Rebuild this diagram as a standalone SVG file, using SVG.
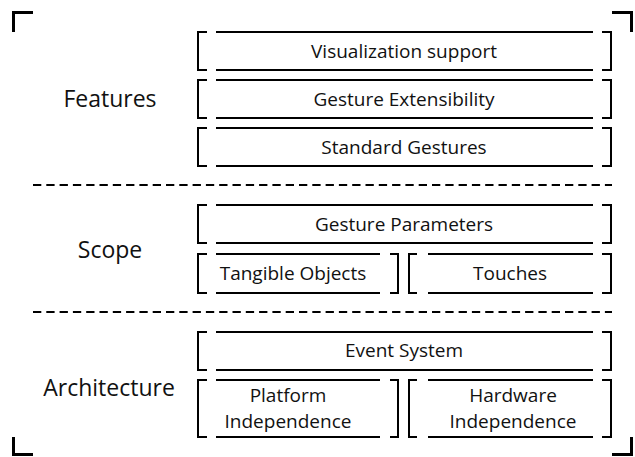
<svg xmlns="http://www.w3.org/2000/svg" width="635" height="457" viewBox="0 0 635 457">
  <style>
    .frame { fill: none; stroke: #000; stroke-width: 3; }
    .edge { fill: none; stroke: #000; stroke-width: 2; }
    .sep { fill: none; stroke: #000; stroke-width: 2; stroke-dasharray: 8.3 5; }
    .label { font-family: "Open Sans", "Noto Sans", "Liberation Sans", sans-serif; font-size: 19px; fill: #111; text-anchor: middle; }
    .title { font-family: "Open Sans", "Noto Sans", "Liberation Sans", sans-serif; font-size: 23px; fill: #111; text-anchor: middle; }
  </style>

  <!-- crop-mark corners -->
  <g id="corners">
    <path class="frame" d="M33,12.5 H13.5 V32"/>
    <path class="frame" d="M612,12.5 H631.5 V32"/>
    <path class="frame" d="M13.5,437 V454.5 H33"/>
    <path class="frame" d="M631.5,437 V454.5 H612"/>
  </g>

  <!-- section separators -->
  <g id="connectors">
    <line class="sep" x1="33" y1="185" x2="612" y2="185"/>
    <line class="sep" x1="33" y1="312" x2="612" y2="312"/>
  </g>

  <!-- section titles -->
  <text class="title" x="110" y="107">Features</text>
  <text class="title" x="110" y="258">Scope</text>
  <text class="title" x="109" y="396">Architecture</text>

  <!-- Features -->
  <g id="visualization-support">
    <path class="edge" d="M207,32 H198 V70 H207 M216,32 H593 M216,70 H593 M602,32 H611 V70 H602"/>
    <text class="label" x="404" y="58">Visualization support</text>
  </g>
  <g id="gesture-extensibility">
    <path class="edge" d="M207,80 H198 V118 H207 M216,80 H593 M216,118 H593 M602,80 H611 V118 H602"/>
    <text class="label" x="404" y="106">Gesture Extensibility</text>
  </g>
  <g id="standard-gestures">
    <path class="edge" d="M207,128 H198 V166 H207 M216,128 H593 M216,166 H593 M602,128 H611 V166 H602"/>
    <text class="label" x="404" y="154">Standard Gestures</text>
  </g>

  <!-- Scope -->
  <g id="gesture-parameters">
    <path class="edge" d="M207,205 H198 V243 H207 M216,205 H593 M216,243 H593 M602,205 H611 V243 H602"/>
    <text class="label" x="404" y="231">Gesture Parameters</text>
  </g>
  <g id="tangible-objects">
    <path class="edge" d="M207,254 H198 V293 H207 M216,254 H380 M216,293 H380 M390,254 H398 V293 H390"/>
    <text class="label" x="293" y="280">Tangible Objects</text>
  </g>
  <g id="touches">
    <path class="edge" d="M417,254 H409 V293 H417 M428,254 H593 M428,293 H593 M602,254 H611 V293 H602"/>
    <text class="label" x="510" y="280">Touches</text>
  </g>

  <!-- Architecture -->
  <g id="event-system">
    <path class="edge" d="M207,332 H198 V370 H207 M216,332 H593 M216,370 H593 M602,332 H611 V370 H602"/>
    <text class="label" x="404" y="357">Event System</text>
  </g>
  <g id="platform-independence">
    <path class="edge" d="M207,380 H198 V437 H207 M216,380 H380 M216,437 H380 M390,380 H398 V437 H390"/>
    <text class="label" x="288" y="402">Platform</text>
    <text class="label" x="288" y="428">Independence</text>
  </g>
  <g id="hardware-independence">
    <path class="edge" d="M417,380 H409 V437 H417 M428,380 H593 M428,437 H593 M602,380 H611 V437 H602"/>
    <text class="label" x="513" y="402">Hardware</text>
    <text class="label" x="513" y="428">Independence</text>
  </g>
</svg>
